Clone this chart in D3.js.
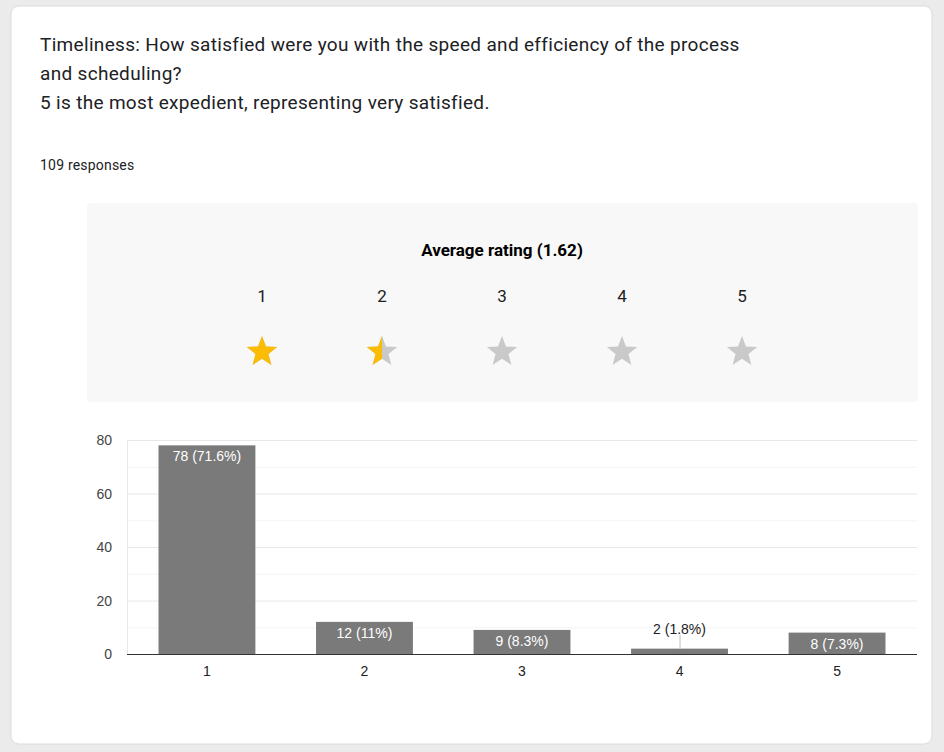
<!DOCTYPE html>
<html>
<head>
<meta charset="utf-8">
<script src="https://cdn.jsdelivr.net/npm/d3@7"></script>
<style>
  body { margin: 0; background: #ebebeb; }
  #graf { position: absolute; left: 0; top: 0; }
</style>
</head>
<body>
<div id="graf"></div>
<script>
const categorias = ["1", "2", "3", "4", "5"]
const respuestas = [78, 12, 9, 2, 8]
const porcentajes = ["71.6%", "11%", "8.3%", "1.8%", "7.3%"]
const ticksY = [0, 20, 40, 60, 80]
const promedio = 1.62
const total = 109

const anchoTotal = 944
const altoTotal = 752
const fuenteGraf = "Liberation Sans, Arial"

const svg = d3
  .select("#graf")
  .append("svg")
  .attr("width", anchoTotal)
  .attr("height", altoTotal)

// tarjeta blanca
svg.append("rect")
  .attr("x", 11).attr("y", 6)
  .attr("width", 921).attr("height", 738)
  .attr("rx", 8)
  .attr("fill", "#fff")
  .attr("stroke", "#dadce0")

const titulo = [
  "Timeliness: How satisfied were you with the speed and efficiency of the process",
  "and scheduling?",
  "5 is the most expedient, representing very satisfied.",
]
svg.selectAll(".titulo")
  .data(titulo)
  .enter()
  .append("text")
  .attr("class", "titulo")
  .attr("x", 40)
  .attr("y", (d, i) => 51 + i * 29)
  .attr("font-family", "Roboto")
  .attr("font-size", 19)
  .attr("letter-spacing", 0.32)
  .attr("fill", "#202124")
  .text((d) => d)

svg.append("text")
  .attr("x", 40).attr("y", 170)
  .attr("font-family", "Roboto")
  .attr("font-size", 14)
  .attr("letter-spacing", 0.2)
  .attr("fill", "#202124")
  .text(`${total} responses`)

// panel de estrellas
svg.append("rect")
  .attr("x", 87).attr("y", 203)
  .attr("width", 831).attr("height", 199)
  .attr("rx", 4)
  .attr("fill", "#f8f8f8")

svg.append("text")
  .attr("x", 502).attr("y", 256)
  .attr("text-anchor", "middle")
  .attr("font-family", "Roboto")
  .attr("font-weight", "bold")
  .attr("font-size", 17)
  .attr("fill", "#000")
  .text(`Average rating (${promedio})`)

const xEstrella = d3.scalePoint().domain(categorias).range([262, 742])

svg.selectAll(".numEstrella")
  .data(categorias)
  .enter()
  .append("text")
  .attr("x", (d) => xEstrella(d))
  .attr("y", 302)
  .attr("text-anchor", "middle")
  .attr("font-family", "Roboto")
  .attr("font-size", 17)
  .attr("fill", "#202124")
  .text((d) => d)

// forma de estrella
const puntas = d3.range(10).map((i) => {
  const r = i % 2 === 0 ? 16 : 6.8
  const a = (i * Math.PI) / 5
  return [a, r]
})
const estrella = d3.lineRadial().angle((d) => d[0]).radius((d) => d[1]).curve(d3.curveLinearClosed)(puntas)

const defs = svg.append("defs")
const relleno = categorias.map((d) => {
  const f = Math.round((promedio - (+d - 1)) * 2) / 2
  return Math.max(0, Math.min(1, f))
})

const g = svg.selectAll(".estrella")
  .data(categorias)
  .enter()
  .append("g")
  .attr("transform", (d) => `translate(${xEstrella(d)},352)`)

g.append("path").attr("d", estrella).attr("fill", "#c9c9c9")

categorias.forEach((d, i) => {
  defs.append("clipPath")
    .attr("id", "clip" + i)
    .append("rect")
    .attr("x", -17).attr("y", -18)
    .attr("width", 34 * relleno[i]).attr("height", 36)
})
g.append("path")
  .attr("d", estrella)
  .attr("fill", "#fbbc04")
  .attr("clip-path", (d, i) => `url(#clip${i})`)

// grafico de barras
const izq = 127, der = 917, arriba = 440, abajo = 654

const x = d3.scaleBand().domain(categorias).range([izq, der]).paddingInner(0.385).paddingOuter(0.2)
const y = d3.scaleLinear().domain([0, 80]).range([abajo, arriba])

svg.selectAll(".menor")
  .data(d3.range(10, 81, 10))
  .enter()
  .append("line")
  .attr("x1", izq).attr("x2", der)
  .attr("y1", (d) => y(d) + 0.5).attr("y2", (d) => y(d) + 0.5)
  .attr("stroke", (d) => (d % 20 === 0 ? "#e8e8e8" : "#f4f4f4"))

svg.append("line")
  .attr("x1", izq + 0.5).attr("x2", izq + 0.5)
  .attr("y1", arriba).attr("y2", abajo)
  .attr("stroke", "#e8e8e8")

svg.selectAll(".tickY")
  .data(ticksY)
  .enter()
  .append("text")
  .attr("x", 112)
  .attr("y", (d) => y(d) + 5)
  .attr("text-anchor", "end")
  .attr("font-family", fuenteGraf)
  .attr("font-size", 14)
  .attr("fill", "#444")
  .text((d) => d)

svg.selectAll(".barra")
  .data(respuestas)
  .enter()
  .append("rect")
  .attr("x", (d, i) => x(categorias[i]))
  .attr("y", (d) => y(d))
  .attr("width", x.bandwidth())
  .attr("height", (d) => abajo - y(d))
  .attr("fill", "#7a7a7a")

svg.append("line")
  .attr("x1", izq).attr("x2", der)
  .attr("y1", abajo + 0.5).attr("y2", abajo + 0.5)
  .attr("stroke", "#333")

svg.selectAll(".tickX")
  .data(categorias)
  .enter()
  .append("text")
  .attr("x", (d) => x(d) + x.bandwidth() / 2)
  .attr("y", 676)
  .attr("text-anchor", "middle")
  .attr("font-family", fuenteGraf)
  .attr("font-size", 14)
  .attr("fill", "#222")
  .text((d) => d)

// etiquetas
respuestas.forEach((d, i) => {
  const cx = x(categorias[i]) + x.bandwidth() / 2
  const dentro = abajo - y(d) > 18
  if (dentro) {
    svg.append("text")
      .attr("x", cx).attr("y", y(d) + 16)
      .attr("text-anchor", "middle")
      .attr("font-family", fuenteGraf)
      .attr("font-size", 14)
      .attr("fill", "#fff")
      .text(`${d} (${porcentajes[i]})`)
  } else {
    svg.append("line")
      .attr("x1", cx + 0.5).attr("x2", cx + 0.5)
      .attr("y1", y(d)).attr("y2", y(d) - 14)
      .attr("stroke", "#c0c0c0")
    svg.append("text")
      .attr("x", cx).attr("y", y(d) - 15)
      .attr("text-anchor", "middle")
      .attr("font-family", fuenteGraf)
      .attr("font-size", 14)
      .attr("fill", "#222")
      .text(`${d} (${porcentajes[i]})`)
  }
})
</script>
</body>
</html>
